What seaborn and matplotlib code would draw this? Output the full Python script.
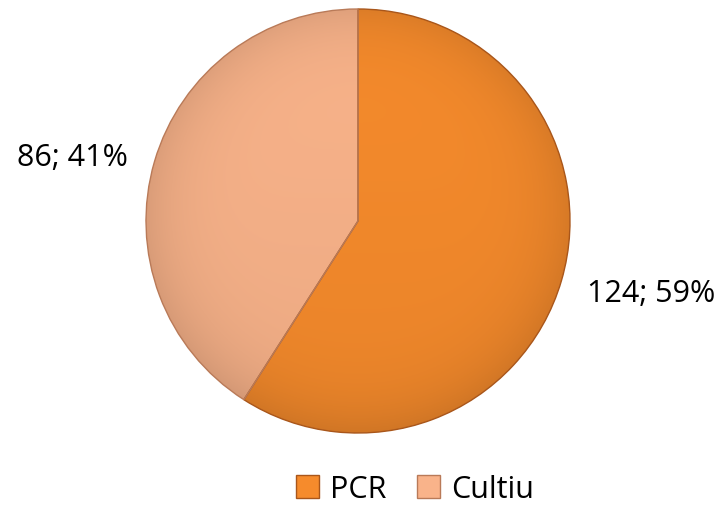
import matplotlib
matplotlib.use('Agg')
import numpy as np
import matplotlib.pyplot as plt
import matplotlib.colors as mcolors
import seaborn as sns
from matplotlib.patches import Patch

# Data
categories = ['PCR', 'Cultiu']
counts = [124, 86]
percents = [59, 41]

sns.set_theme(style='white')
plt.rcParams['font.family'] = ['Open Sans', 'DejaVu Sans']
plt.rcParams['text.color'] = 'black'

colors = ['#F68B2C', '#F9B38A']
edges = ['#A9561A', '#B97A58']

fig = plt.figure(figsize=(7.27, 5.06), dpi=100)
# pie centre at (358, 222) px, radius ~212 px
side = 424 * 1.02
ax = fig.add_axes([(358 - side / 2) / 727, (506 - 222 - side / 2) / 506, side / 727, side / 506])

wedges, _ = ax.pie(counts, colors=colors, startangle=90, counterclock=False,
                   radius=1.0, wedgeprops=dict(linewidth=1.0))

# soft shading inside each wedge: darker towards the rim and the bottom
yy, xx = np.mgrid[-1:1:300j, -1:1:300j]
rr = np.sqrt(xx ** 2 + yy ** 2)
shade = 1 - 0.10 * np.clip(rr, 0, 1) ** 6 - 0.05 * (yy + 1) / 2
for w, c, ec in zip(wedges, colors, edges):
    rgb = np.array(mcolors.to_rgb(c))
    img = np.clip(shade[..., None] * rgb, 0, 1)
    im = ax.imshow(img, extent=(-1, 1, -1, 1), origin='upper', zorder=1)
    im.set_clip_path(w)
    w.set_facecolor('none')
    w.set_edgecolor(ec)
    w.set_zorder(2)

ax.set_xlim(-1.02, 1.02)
ax.set_ylim(-1.02, 1.02)
ax.set_aspect('equal')
ax.axis('off')

labels = [f'{c}; {p}%' for c, p in zip(counts, percents)]
fig.text(651 / 727, 1 - 294 / 506, labels[0], fontsize=22, ha='center', va='center', color='black')
fig.text(72 / 727, 1 - 158 / 506, labels[1], fontsize=22, ha='center', va='center', color='black')

handles = [Patch(facecolor=c, edgecolor=e, label=n) for c, e, n in zip(colors, edges, categories)]
fig.legend(handles=handles, loc='center', bbox_to_anchor=(415 / 727, 1 - 490 / 506),
           ncol=2, frameon=False, fontsize=22, handlelength=0.75, handleheight=0.75,
           handletextpad=0.35, columnspacing=1.0, borderpad=0, labelcolor='black')

fig.savefig('out.png', dpi=100)
